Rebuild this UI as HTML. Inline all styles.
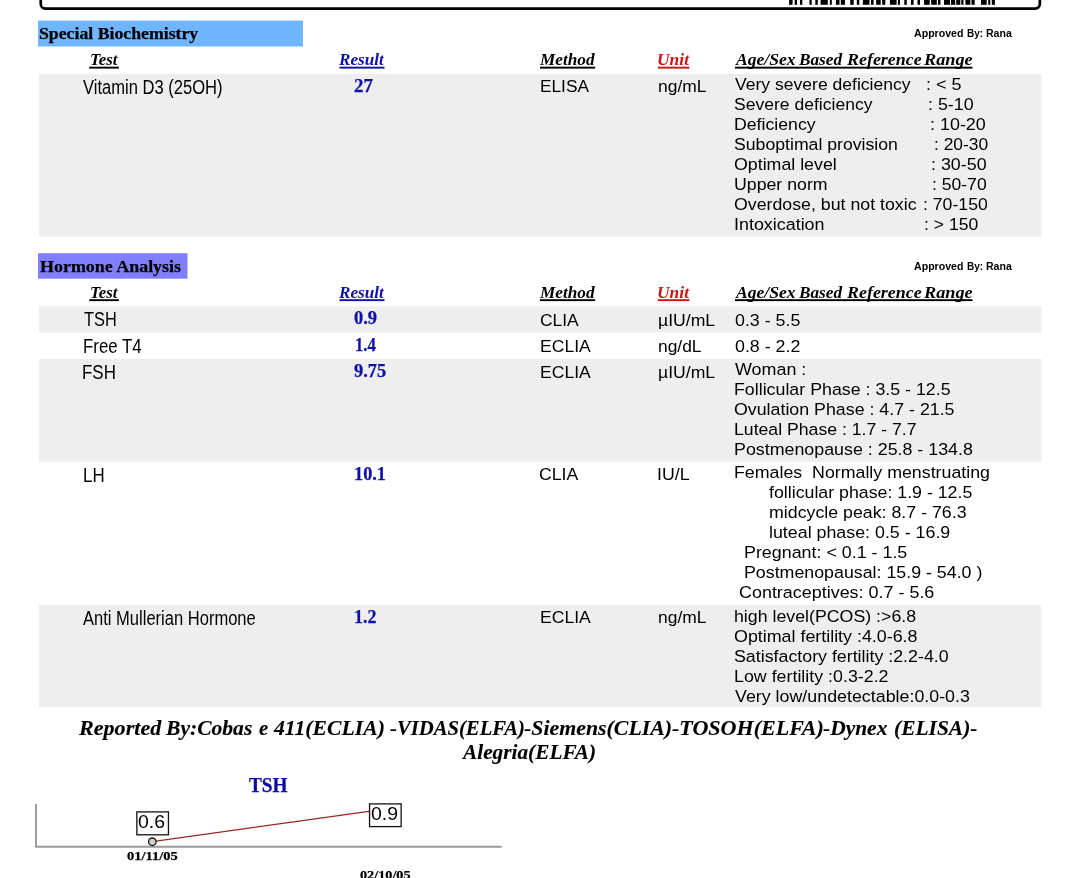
<!DOCTYPE html>
<html lang="en"><head><meta charset="utf-8"><title>Laboratory Report</title>
<style>
html,body{margin:0;padding:0;background:#fff;}
#pg{position:relative;width:1080px;height:878px;overflow:hidden;background:#fff;color:#000;}
.t{position:absolute;white-space:pre;transform-origin:0 0;}
.sb{font:normal bold 17.33px/normal "Liberation Serif",serif;}
.ab{font:normal bold 10.2px/normal "Liberation Sans",sans-serif;}
.hd{font:italic bold 17.33px/normal "Liberation Serif",serif;}
.nm{font:normal normal 20px/normal "Liberation Sans",sans-serif;}
.rs{font:normal bold 18.0px/normal "Liberation Serif",serif;}
.tx{font:normal normal 17.33px/normal "Liberation Sans",sans-serif;}
.ft{font:italic bold 21.33px/normal "Liberation Serif",serif;}
.ct{font:normal bold 20px/normal "Liberation Serif",serif;}
.cd{font:normal bold 13.5px/normal "Liberation Serif",serif;}
.cl{font:normal normal 18.2px/normal "Liberation Sans",sans-serif;}
.sb,.rs,.ct,.cd{-webkit-text-stroke:0.25px currentColor;}
.ft{-webkit-text-stroke:0.12px currentColor;}
svg{position:absolute;left:0;top:0;}
</style></head><body>
<div id="pg">
<svg width="1080" height="14" viewBox="0 0 1080 14"><rect x="40.75" y="-30" width="999.1" height="38.55" rx="4.6" fill="none" stroke="#000" stroke-width="2.7"/><g fill="#000"><rect x="789.1" y="-1" width="3.5" height="5.8"/><rect x="794.7" y="-1" width="2.3" height="5.8"/><rect x="800" y="-1" width="2.3" height="5.8"/><rect x="809.4" y="-1" width="2.3" height="5.8"/><rect x="815.3" y="-1" width="2.5" height="5.8"/><rect x="820.6" y="-1" width="7.2" height="5.8"/><rect x="829.8" y="-1" width="2.0" height="5.8"/><rect x="835.9" y="-1" width="3.6" height="5.8"/><rect x="840.8" y="-1" width="4.2" height="5.8"/><rect x="850.2" y="-1" width="3.5" height="5.8"/><rect x="856.8" y="-1" width="2.5" height="5.8"/><rect x="862.9" y="-1" width="6.6" height="5.8"/><rect x="871" y="-1" width="2.6" height="5.8"/><rect x="876.1" y="-1" width="4.6" height="5.8"/><rect x="882.2" y="-1" width="3.1" height="5.8"/><rect x="889.9" y="-1" width="6.7" height="5.8"/><rect x="897.9" y="-1" width="2.1" height="5.8"/><rect x="904.3" y="-1" width="2.5" height="5.8"/><rect x="910.9" y="-1" width="2.7" height="5.8"/><rect x="917.5" y="-1" width="2.5" height="5.8"/><rect x="924.1" y="-1" width="5.6" height="5.8"/><rect x="931.2" y="-1" width="5.6" height="5.8"/><rect x="938" y="-1" width="2.4" height="5.8"/><rect x="944" y="-1" width="6" height="5.8"/><rect x="951" y="-1" width="4.2" height="5.8"/><rect x="956.2" y="-1" width="4.1" height="5.8"/><rect x="961.3" y="-1" width="2.2" height="5.8"/><rect x="965.4" y="-1" width="5.0" height="5.8"/><rect x="971.5" y="-1" width="3.2" height="5.8"/><rect x="981" y="-1" width="5.7" height="5.8"/><rect x="988.2" y="-1" width="2.1" height="5.8"/><rect x="991.8" y="-1" width="3.1" height="5.8"/></g></svg>
<svg width="1080" height="878" viewBox="0 0 1080 878">
<rect x="38" y="20.6" width="265" height="25.9" fill="#6fb5ff"/>
<rect x="38" y="253.2" width="149.5" height="25.5" fill="#8080ff"/>
<rect x="39" y="74.1" width="1002.4" height="162.4" fill="#eeeeee"/><rect x="39" y="306.35" width="1002.4" height="26.25" fill="#eeeeee"/><rect x="39" y="358.85" width="1002.4" height="102.95" fill="#eeeeee"/><rect x="39" y="605.0" width="1002.4" height="102.2" fill="#eeeeee"/>
<rect x="89.2" y="66.7" width="29.7" height="1.9" fill="#000"/><rect x="339.5" y="66.7" width="45.0" height="1.9" fill="#1010a8"/><rect x="540" y="66.7" width="55.2" height="1.9" fill="#000"/><rect x="657.8" y="66.7" width="31.6" height="1.9" fill="#cc1414"/><rect x="735" y="66.7" width="237.5" height="1.9" fill="#000"/><rect x="89.2" y="299.2" width="29.7" height="1.9" fill="#000"/><rect x="339.5" y="299.2" width="45.0" height="1.9" fill="#1010a8"/><rect x="540" y="299.2" width="55.2" height="1.9" fill="#000"/><rect x="657.8" y="299.2" width="31.6" height="1.9" fill="#cc1414"/><rect x="735" y="299.2" width="237.5" height="1.9" fill="#000"/>
<path d="M36 803.9 V846.7 H501.75" fill="none" stroke="#999" stroke-width="1.9"/>
<path d="M152.3 841.7 L385 809.05" fill="none" stroke="#982828" stroke-width="1.3"/>
<circle cx="152.3" cy="841.7" r="3.75" fill="#d0d0d0" stroke="#1a1a1a" stroke-width="1.35"/>
<rect x="136.85" y="811.9" width="31.6" height="22.9" fill="#fff" stroke="#111" stroke-width="1.3"/>
<rect x="369.55" y="803.9" width="31.6" height="22.7" fill="#fff" stroke="#111" stroke-width="1.3"/>
</svg>
<span class="t sb" style="left:38.61px;top:23.80px;transform:scaleX(1.0244);">Special Biochemistry</span>
<span class="t sb" style="left:39.50px;top:256.70px;transform:scaleX(1.0353);">Hormone Analysis</span>
<div class="grp"><span class="t ab" style="left:914.20px;top:28.00px;transform:scaleX(1.0410);">Approved </span><span class="t ab" style="left:966.77px;top:28.00px;transform:scaleX(0.9813);">By: </span><span class="t ab" style="left:985.72px;top:28.00px;transform:scaleX(1.0349);">Rana</span></div>
<span class="t hd" style="left:89.63px;top:50.30px;transform:scaleX(0.9709);">Test</span>
<span class="t hd" style="left:339.45px;top:50.30px;transform:scaleX(0.9882);color:#1010a8;">Result</span>
<span class="t hd" style="left:540.07px;top:50.30px;transform:scaleX(0.9949);">Method</span>
<span class="t hd" style="left:657.14px;top:50.30px;transform:scaleX(1.0078);color:#cc1414;">Unit</span>
<div class="grp"><span class="t hd" style="left:735.98px;top:50.30px;transform:scaleX(1.0153);">Age/Sex </span><span class="t hd" style="left:798.82px;top:50.30px;transform:scaleX(0.9947);">Based </span><span class="t hd" style="left:846.51px;top:50.30px;transform:scaleX(1.0348);">Reference </span><span class="t hd" style="left:923.77px;top:50.30px;transform:scaleX(1.0542);">Range</span></div>
<div class="grp"><span class="t ab" style="left:914.20px;top:260.50px;transform:scaleX(1.0410);">Approved </span><span class="t ab" style="left:966.77px;top:260.50px;transform:scaleX(0.9813);">By: </span><span class="t ab" style="left:985.72px;top:260.50px;transform:scaleX(1.0349);">Rana</span></div>
<span class="t hd" style="left:89.63px;top:282.80px;transform:scaleX(0.9709);">Test</span>
<span class="t hd" style="left:339.45px;top:282.80px;transform:scaleX(0.9882);color:#1010a8;">Result</span>
<span class="t hd" style="left:540.07px;top:282.80px;transform:scaleX(0.9949);">Method</span>
<span class="t hd" style="left:657.14px;top:282.80px;transform:scaleX(1.0078);color:#cc1414;">Unit</span>
<div class="grp"><span class="t hd" style="left:735.98px;top:282.80px;transform:scaleX(1.0153);">Age/Sex </span><span class="t hd" style="left:798.82px;top:282.80px;transform:scaleX(0.9947);">Based </span><span class="t hd" style="left:846.51px;top:282.80px;transform:scaleX(1.0348);">Reference </span><span class="t hd" style="left:923.77px;top:282.80px;transform:scaleX(1.0542);">Range</span></div>
<span class="t nm" style="left:83.20px;top:75.90px;transform:scaleX(0.8278);">Vitamin D3 (25OH)</span>
<span class="t rs" style="left:354.06px;top:76.10px;transform:scaleX(1.0534);color:#1010a8;">27</span>
<span class="t tx" style="left:539.60px;top:76.40px;transform:scaleX(0.9966);">ELISA</span>
<span class="t tx" style="left:658.01px;top:76.25px;transform:scaleX(1.0071);">ng/mL</span>
<div class="grp"><span class="t tx" style="left:734.90px;top:74.10px;transform:scaleX(1.0124);">Very severe deficiency </span><span class="t tx" style="left:926.11px;top:74.10px;transform:scaleX(1.0423);">: &lt; 5</span></div>
<div class="grp"><span class="t tx" style="left:733.99px;top:94.10px;transform:scaleX(1.0122);">Severe deficiency </span><span class="t tx" style="left:928.38px;top:94.10px;transform:scaleX(1.0297);">: 5-10</span></div>
<div class="grp"><span class="t tx" style="left:734.19px;top:114.10px;transform:scaleX(1.0212);">Deficiency </span><span class="t tx" style="left:930.36px;top:114.10px;transform:scaleX(1.0342);">: 10-20</span></div>
<div class="grp"><span class="t tx" style="left:733.98px;top:134.10px;transform:scaleX(1.0191);">Suboptimal provision </span><span class="t tx" style="left:934.28px;top:134.10px;transform:scaleX(1.0018);">: 20-30</span></div>
<div class="grp"><span class="t tx" style="left:734.12px;top:154.10px;transform:scaleX(1.0255);">Optimal level </span><span class="t tx" style="left:931.17px;top:154.10px;transform:scaleX(1.0306);">: 30-50</span></div>
<div class="grp"><span class="t tx" style="left:733.89px;top:174.10px;transform:scaleX(1.0225);">Upper norm </span><span class="t tx" style="left:932.21px;top:174.10px;transform:scaleX(1.0129);">: 50-70</span></div>
<div class="grp"><span class="t tx" style="left:734.11px;top:194.10px;transform:scaleX(1.0246);">Overdose, but not toxic </span><span class="t tx" style="left:923.08px;top:194.10px;transform:scaleX(1.0186);">: 70-150</span></div>
<div class="grp"><span class="t tx" style="left:733.95px;top:214.10px;transform:scaleX(1.0325);">Intoxication </span><span class="t tx" style="left:923.83px;top:214.10px;transform:scaleX(1.0134);">: &gt; 150</span></div>
<span class="t nm" style="left:83.80px;top:308.40px;transform:scaleX(0.8170);">TSH</span>
<span class="t rs" style="left:354.07px;top:307.90px;transform:scaleX(1.0267);color:#1010a8;">0.9</span>
<span class="t tx" style="left:540.31px;top:309.50px;transform:scaleX(1.0056);">CLIA</span>
<span class="t tx" style="left:658.40px;top:309.50px;transform:scaleX(1.0159);">µIU/mL</span>
<span class="t tx" style="left:735.30px;top:309.50px;transform:scaleX(1.0280);">0.3 - 5.5</span>
<span class="t nm" style="left:82.67px;top:334.90px;transform:scaleX(0.8421);">Free T4</span>
<span class="t rs" style="left:355.07px;top:334.70px;transform:scaleX(0.9302);color:#1010a8;">1.4</span>
<span class="t tx" style="left:539.60px;top:335.65px;transform:scaleX(1.0138);">ECLIA</span>
<span class="t tx" style="left:658.22px;top:335.65px;transform:scaleX(1.0031);">ng/dL</span>
<span class="t tx" style="left:735.30px;top:335.65px;transform:scaleX(1.0280);">0.8 - 2.2</span>
<span class="t nm" style="left:82.15px;top:360.80px;transform:scaleX(0.8467);">FSH</span>
<span class="t rs" style="left:353.80px;top:360.80px;transform:scaleX(1.0230);color:#1010a8;">9.75</span>
<span class="t tx" style="left:539.60px;top:361.90px;transform:scaleX(1.0138);">ECLIA</span>
<span class="t tx" style="left:658.40px;top:361.90px;transform:scaleX(1.0159);">µIU/mL</span>
<span class="t tx" style="left:735.20px;top:359.30px;transform:scaleX(1.0335);">Woman :</span>
<span class="t tx" style="left:734.27px;top:379.30px;transform:scaleX(1.0268);">Follicular Phase : 3.5 - 12.5</span>
<span class="t tx" style="left:734.11px;top:399.30px;transform:scaleX(1.0265);">Ovulation Phase : 4.7 - 21.5</span>
<span class="t tx" style="left:734.28px;top:419.30px;transform:scaleX(1.0184);">Luteal Phase : 1.7 - 7.7</span>
<span class="t tx" style="left:733.87px;top:439.30px;transform:scaleX(1.0289);">Postmenopause : 25.8 - 134.8</span>
<span class="t nm" style="left:82.91px;top:463.75px;transform:scaleX(0.8433);">LH</span>
<span class="t rs" style="left:354.32px;top:464.10px;transform:scaleX(1.0165);color:#1010a8;">10.1</span>
<span class="t tx" style="left:539.29px;top:464.10px;transform:scaleX(1.0192);">CLIA</span>
<span class="t tx" style="left:657.39px;top:464.10px;transform:scaleX(1.0236);">IU/L</span>
<span class="t tx" style="left:734.18px;top:462.40px;transform:scaleX(1.0262);">Females  Normally menstruating</span>
<span class="t tx" style="left:769.20px;top:482.40px;transform:scaleX(1.0244);">follicular phase: 1.9 - 12.5</span>
<span class="t tx" style="left:768.97px;top:502.40px;transform:scaleX(1.0257);">midcycle peak: 8.7 - 76.3</span>
<span class="t tx" style="left:768.97px;top:522.40px;transform:scaleX(1.0283);">luteal phase: 0.5 - 16.9</span>
<span class="t tx" style="left:744.37px;top:542.40px;transform:scaleX(1.0303);">Pregnant: &lt; 0.1 - 1.5</span>
<span class="t tx" style="left:744.27px;top:562.40px;transform:scaleX(1.0268);">Postmenopausal: 15.9 - 54.0 )</span>
<span class="t tx" style="left:738.65px;top:582.40px;transform:scaleX(1.0347);">Contraceptives: 0.7 - 5.6</span>
<span class="t nm" style="left:83.00px;top:606.90px;transform:scaleX(0.8266);">Anti Mullerian Hormone</span>
<span class="t rs" style="left:354.35px;top:606.70px;transform:scaleX(0.9982);color:#1010a8;">1.2</span>
<span class="t tx" style="left:539.60px;top:607.30px;transform:scaleX(1.0138);">ECLIA</span>
<span class="t tx" style="left:658.01px;top:607.30px;transform:scaleX(1.0071);">ng/mL</span>
<span class="t tx" style="left:734.18px;top:605.80px;transform:scaleX(1.0246);">high level(PCOS) :&gt;6.8</span>
<span class="t tx" style="left:734.11px;top:625.80px;transform:scaleX(1.0298);">Optimal fertility :4.0-6.8</span>
<span class="t tx" style="left:733.97px;top:645.80px;transform:scaleX(1.0270);">Satisfactory fertility :2.2-4.0</span>
<span class="t tx" style="left:734.17px;top:665.80px;transform:scaleX(1.0283);">Low fertility :0.3-2.2</span>
<span class="t tx" style="left:734.90px;top:685.80px;transform:scaleX(1.0288);">Very low/undetectable:0.0-0.3</span>
<div class="grp"><span class="t ft" style="left:78.62px;top:716.00px;transform:scaleX(1.0361);">Reported </span><span class="t ft" style="left:165.95px;top:716.00px;transform:scaleX(1.0115);">By:Cobas </span><span class="t ft" style="left:259.25px;top:716.00px;transform:scaleX(0.9722);">e </span><span class="t ft" style="left:273.75px;top:716.00px;transform:scaleX(1.0169);">411(ECLIA) </span><span class="t ft" style="left:390.43px;top:716.00px;transform:scaleX(0.9700);">-VIDAS(ELFA)</span><span class="t ft" style="left:524.46px;top:716.00px;transform:scaleX(1.0246);">-Siemens(CLIA)</span><span class="t ft" style="left:672.36px;top:716.00px;transform:scaleX(1.0337);">-TOSOH(ELFA)</span><span class="t ft" style="left:822.96px;top:716.00px;transform:scaleX(1.0062);">-Dynex </span><span class="t ft" style="left:894.00px;top:716.00px;transform:scaleX(1.0058);">(ELISA)-</span></div>
<span class="t ft" style="left:462.50px;top:739.75px;transform:scaleX(0.9989);">Alegria(ELFA)</span>
<span class="t ct" style="left:248.50px;top:774.00px;transform:scaleX(0.9645);color:#0c0ca0;">TSH</span>
<span class="t cl" style="left:137.96px;top:811.50px;transform:scaleX(1.0712);">0.6</span>
<span class="t cl" style="left:370.87px;top:803.75px;transform:scaleX(1.0704);">0.9</span>
<span class="t cd" style="left:126.59px;top:848.40px;transform:scaleX(1.0756);">01/11/05</span>
<span class="t cd" style="left:359.62px;top:867.15px;transform:scaleX(1.0529);">02/10/05</span>
</div>
</body></html>
